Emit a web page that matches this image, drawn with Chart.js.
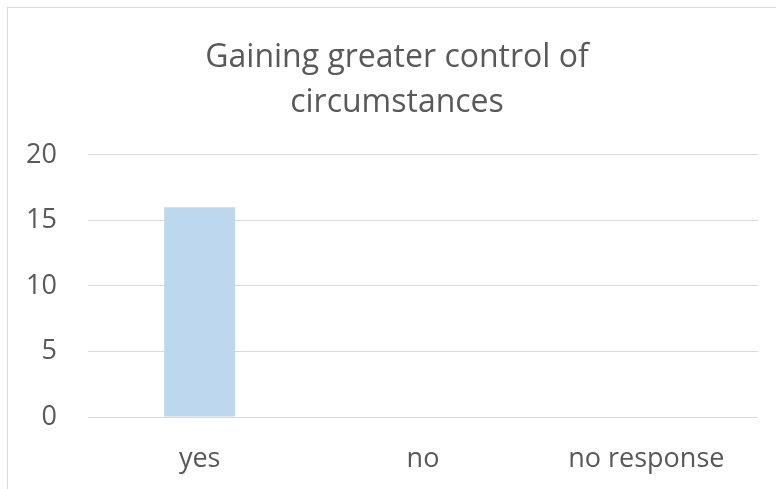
<!DOCTYPE html>
<html>
<head>
<meta charset="utf-8">
<script src="https://cdn.jsdelivr.net/npm/chart.js@4"></script>
<style>
  html, body { margin: 0; padding: 0; background: #fff; overflow: hidden; }
  #frame { position: absolute; left: 7px; top: 7px; width: 900px; height: 600px; border-left: 1px solid #d9d9d9; border-top: 1px solid #d9d9d9; }
  #wrap { position: absolute; left: 0; top: 0; width: 776px; height: 489px; }
</style>
</head>
<body>
<div id="frame"></div>
<div id="wrap"><canvas id="grafico"></canvas></div>
<script>
const categorias = ['yes', 'no', 'no response'];
const valores = [16, 0, 0];
const tituloLinhas = ['Gaining greater control of', 'circumstances'];
const yMin = 0, yMax = 20, yPasso = 5;

const corTexto = '#595959';
const corGrade = '#d9d9d9';
const fonte = '"Open Sans", Lato, sans-serif';

// o título no original fica centrado na moldura, não na área do gráfico
const deslocaTitulo = {
  id: 'deslocaTitulo',
  afterLayout(chart) {
    const t = chart.titleBlock;
    if (t) { t.left += 18; t.right += 18; }
  }
};

const ctx = document.getElementById('grafico').getContext('2d');
new Chart(ctx, {
  type: 'bar',
  data: {
    labels: categorias,
    datasets: [{
      label: 'Série',
      data: valores,
      backgroundColor: '#bdd7ee',
      borderWidth: 0,
      categoryPercentage: 0.5,
      barPercentage: 0.636
    }]
  },
  options: {
    responsive: true,
    maintainAspectRatio: false,
    animation: false,
    layout: { padding: { left: 0, right: 18, top: 0, bottom: 0 } },
    scales: {
      x: {
        grid: { display: false, drawTicks: false },
        border: { display: false },
        ticks: { color: corTexto, font: { family: fonte, size: 27 }, padding: 26 },
        afterFit: s => { s.height = 72; }
      },
      y: {
        min: yMin, max: yMax,
        ticks: { stepSize: yPasso, color: corTexto, font: { family: fonte, size: 27 }, padding: 31 },
        grid: { color: corGrade, lineWidth: 1, drawTicks: false },
        border: { display: false },
        afterFit: s => { s.width = 88; }
      }
    },
    plugins: {
      legend: { display: false },
      tooltip: { enabled: false },
      title: {
        display: true,
        text: tituloLinhas,
        color: corTexto,
        font: { family: fonte, size: 32, weight: 'normal', lineHeight: 1.42 },
        padding: { top: 35, bottom: 29 }
      }
    }
  },
  plugins: [deslocaTitulo]
});
</script>
</body>
</html>
